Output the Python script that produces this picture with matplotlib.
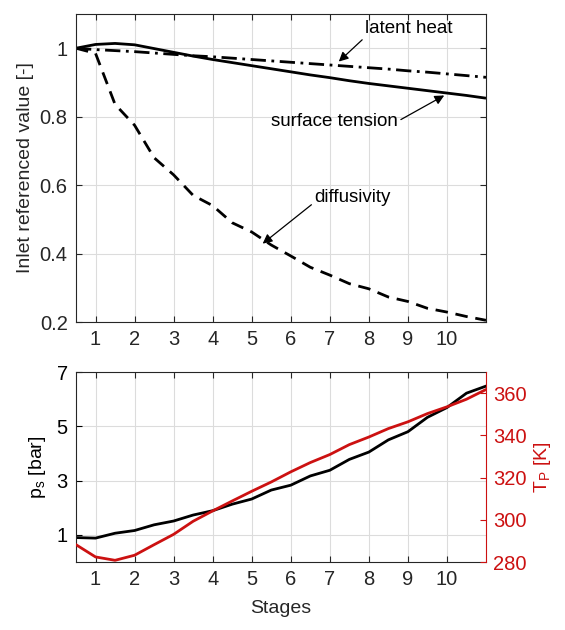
import matplotlib
matplotlib.use("Agg")
import matplotlib.pyplot as plt
import numpy as np

plt.rcParams['font.family'] = ['Liberation Sans', 'DejaVu Sans']

stages = [0.5, 1.0, 1.5, 2.0, 2.5, 3.0, 3.5, 4.0, 4.5, 5.0, 5.5, 6.0,
          6.5, 7.0, 7.5, 8.0, 8.5, 9.0, 9.5, 10.0, 10.5, 11.0]
surface_tension = [1.000, 1.011, 1.014, 1.010, 0.999, 0.988, 0.977, 0.967,
                   0.958, 0.949, 0.940, 0.931, 0.922, 0.914, 0.905, 0.897,
                   0.890, 0.883, 0.876, 0.869, 0.862, 0.854]
latent_heat = [1.000, 0.996, 0.993, 0.990, 0.986, 0.982, 0.978, 0.975,
               0.971, 0.967, 0.963, 0.959, 0.955, 0.951, 0.947, 0.943,
               0.939, 0.934, 0.930, 0.925, 0.920, 0.915]
diffusivity = [1.000, 0.985, 0.836, 0.775, 0.680, 0.630, 0.570, 0.540,
               0.490, 0.463, 0.425, 0.393, 0.360, 0.337, 0.312, 0.297,
               0.273, 0.260, 0.240, 0.229, 0.216, 0.205]
p_s = [0.90, 0.88, 1.06, 1.16, 1.37, 1.51, 1.73, 1.89, 2.13, 2.32, 2.65,
       2.83, 3.17, 3.38, 3.78, 4.05, 4.50, 4.80, 5.33, 5.69, 6.22, 6.48]
T_p = [288.2, 282.4, 280.8, 283.2, 288.2, 293.1, 299.3, 304.2, 308.9,
       313.5, 317.9, 322.7, 327.1, 330.9, 335.6, 339.2, 343.2, 346.4,
       350.3, 353.5, 357.1, 361.7]
xticks = [1, 2, 3, 4, 5, 6, 7, 8, 9, 10]
top_yticks = [0.2, 0.4, 0.6, 0.8, 1.0]
top_yticklabels = ['0.2', '0.4', '0.6', '0.8', '1']
left_yticks = [1, 3, 5, 7]
right_yticks = [280, 300, 320, 340, 360]

W, H = 565, 630
fig = plt.figure(figsize=(W / 100, H / 100), dpi=100)

def rect(l, t, r, b):
    return [l / W, 1 - b / H, (r - l) / W, (b - t) / H]

txtc = '#262626'
red = '#cc1111'
tfs = 14.5
lfs = 14
afs = 13.5

ax1 = fig.add_axes(rect(76, 14, 486, 322))
ax1.plot(stages, surface_tension, color='black', lw=2.0, solid_capstyle='butt')
ax1.plot(stages, latent_heat, color='black', lw=2.0, linestyle=(0, (5.5, 2, 1, 2)))
ax1.plot(stages, diffusivity, color='black', lw=2.0, linestyle=(0, (4.5, 2.8)))
ax1.set_xlim(0.5, 11)
ax1.set_ylim(0.2, 1.1)
ax1.set_xticks(xticks)
ax1.set_yticks(top_yticks)
ax1.set_yticklabels(top_yticklabels)
ax1.set_ylabel('Inlet referenced value [-]', fontsize=lfs, color=txtc, labelpad=4)

ap = dict(arrowstyle='-|>', color='black', lw=0.9, mutation_scale=14,
          shrinkA=0, shrinkB=0)
ax1.annotate('latent heat', xy=(7.23, 0.961), xytext=(7.9, 1.057),
             fontsize=afs, color='black', va='center', ha='left',
             arrowprops=dict(ap, relpos=(0.0, 0.0)))
ax1.annotate('surface tension', xy=(9.93, 0.862), xytext=(5.5, 0.787),
             fontsize=afs, color='black', va='center', ha='left',
             arrowprops=dict(ap, relpos=(1.0, 0.5)))
ax1.annotate('diffusivity', xy=(5.28, 0.429), xytext=(6.6, 0.564),
             fontsize=afs, color='black', va='center', ha='left',
             arrowprops=dict(ap, relpos=(0.0, 0.2)))

ax2 = fig.add_axes(rect(76, 372, 486, 562))
ax2.plot(stages, p_s, color='black', lw=2.0)
ax2.set_xlim(0.5, 11)
ax2.set_ylim(0, 7)
ax2.set_xticks(xticks)
ax2.set_yticks(left_yticks)
ax2.set_ylabel('p$_\\mathregular{s}$ [bar]', fontsize=lfs, color='black', labelpad=6)
ax2.set_xlabel('Stages', fontsize=lfs, color=txtc, labelpad=8)

ax3 = ax2.twinx()
ax3.plot(stages, T_p, color=red, lw=2.0)
ax3.set_ylim(280, 370)
ax3.set_yticks(right_yticks)
ax3.set_ylabel('T$_\\mathregular{P}$ [K]', fontsize=lfs, color=red, labelpad=4)
ax3.tick_params(axis='y', colors=red, direction='in', length=4, labelsize=tfs,
                width=0.8, pad=5)
ax3.spines['right'].set_color(red)
for s in ['left', 'top', 'bottom']:
    ax3.spines[s].set_visible(False)

for ax in (ax1, ax2):
    ax.grid(True, color='#dcdcdc', lw=0.8)
    ax.set_axisbelow(True)
    ax.tick_params(direction='in', length=4, labelsize=tfs, colors=txtc,
                   top=True, right=(ax is ax1), width=0.8, pad=6)
    for s in ax.spines.values():
        s.set_color(txtc)
        s.set_linewidth(0.8)
ax2.tick_params(axis='y', colors='black')
ax2.spines['right'].set_visible(False)

fig.savefig('out.png', dpi=100)
